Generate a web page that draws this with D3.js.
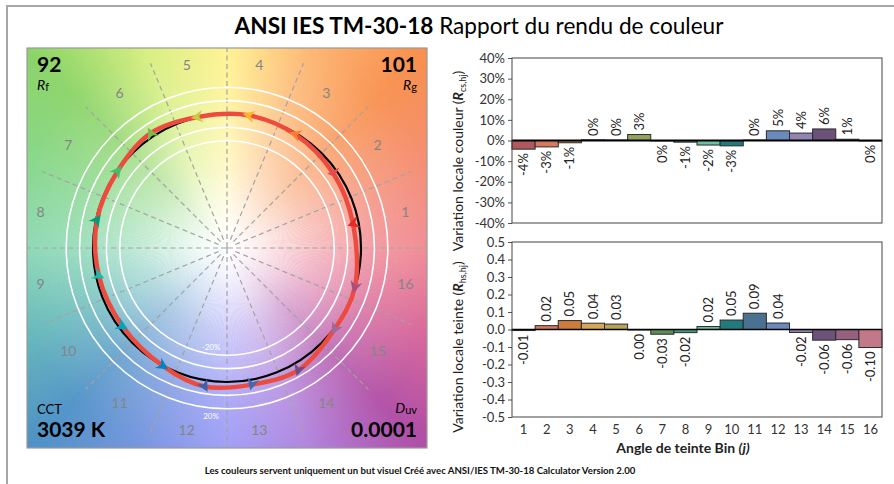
<!DOCTYPE html>
<html>
<head>
<meta charset="utf-8">
<script src="https://cdn.jsdelivr.net/npm/d3@7"></script>
<style>
  body { margin: 0; background: #fff; }
  svg { display: block; font-family: Lato, "Open Sans", sans-serif; }
</style>
</head>
<body>
<svg id="chart" width="894" height="484"></svg>
<script>
// ---- data ----
const bins = [1, 2, 3, 4, 5, 6, 7, 8, 9, 10, 11, 12, 13, 14, 15, 16];
// local chroma shift Rcs,hj (fraction)
const rcs = [-0.042, -0.031, -0.011, 0.003, 0.002, 0.029, -0.002, -0.008,
             -0.022, -0.026, 0.002, 0.047, 0.036, 0.056, 0.006, -0.002];
// local hue shift Rhs,hj
const rhs = [-0.006, 0.022, 0.051, 0.036, 0.031, -0.003, -0.027, -0.018,
             0.017, 0.054, 0.093, 0.037, -0.017, -0.061, -0.058, -0.103];
const rcsTicks = [0.4, 0.3, 0.2, 0.1, 0, -0.1, -0.2, -0.3, -0.4];
const rhsTicks = [0.5, 0.4, 0.3, 0.2, 0.1, 0, -0.1, -0.2, -0.3, -0.4, -0.5];
const ringLevels = [0.8, 0.9, 1.1, 1.2];
const rf = 92, rg = 101, cct = 3039, duv = 0.0001;

// bin colours (arrows) and the muted bar colours
const binColors = ['#e62828', '#e74b4b', '#fb812e', '#ffb529', '#cbca46', '#7eb94c', '#41c06d', '#009c7c',
                   '#16bcb0', '#00a4bf', '#0085c3', '#3b62aa', '#4568ae', '#6a4e85', '#9d69a1', '#a74f81'];
const barColors = ['#b0585f', '#d8785c', '#cc7d3c', '#d6a65a', '#b9a35a', '#93a45a', '#5f8c55', '#3f9a80',
                   '#6cc0a4', '#237a7e', '#4a7290', '#6a8abc', '#9284b2', '#6c5279', '#97607f', '#c27888'];

const svg = d3.select('#chart');

// outer frame
svg.append('path')
  .attr('d', 'M7,484 L7,6 L894,6')
  .attr('fill', 'none').attr('stroke', '#a6a6a6').attr('stroke-width', 2);

// title
const title = svg.append('text')
  .attr('x', 479).attr('y', 34).attr('text-anchor', 'middle')
  .attr('font-size', 22.6).attr('fill', '#000');
title.append('tspan').attr('font-weight', 'bold').text('ANSI IES TM-30-18');
title.append('tspan').text(' Rapport du rendu de couleur');

// ---- colour vector graphic ----
const cx = 227, cy = 248, half = 200;
const R = d3.scaleLinear().domain([0, 1]).range([0, 134]);
const defs = svg.append('defs');
defs.append('clipPath').attr('id', 'panel-clip')
  .append('rect').attr('x', cx - half).attr('y', cy - half).attr('width', 2 * half).attr('height', 2 * half);

const wheel = [[0, '#f0848e'], [22.5, '#f48a70'], [45, '#f8904e'], [67.5, '#fdb670'], [90, '#fff28c'],
               [112.5, '#d6ee7c'], [135, '#8cd468'], [157.5, '#84d68a'], [180, '#86d6b0'], [202.5, '#62b8b8'],
               [225, '#4f92c6'], [247.5, '#7492e0'], [270, '#9a98f6'], [292.5, '#ae80dc'], [315, '#b04ea6'],
               [337.5, '#d86496'], [360, '#f0848e']];
const wheelColor = d3.scaleLinear().domain(wheel.map(d => d[0])).range(wheel.map(d => d[1]));

const panel = svg.append('g').attr('clip-path', 'url(#panel-clip)');
const wedge = d3.arc().innerRadius(0).outerRadius(300);
panel.append('g').attr('transform', `translate(${cx},${cy})`)
  .selectAll('path')
  .data(d3.range(0, 360, 1))
  .join('path')
    .attr('d', d => wedge({startAngle: Math.PI / 2 - (d + 1.2) * Math.PI / 180,
                           endAngle: Math.PI / 2 - d * Math.PI / 180}))
    .attr('fill', d => wheelColor(d + 0.5));

const fade = defs.append('radialGradient').attr('id', 'fade')
  .attr('gradientUnits', 'userSpaceOnUse').attr('cx', cx).attr('cy', cy).attr('r', 270);
[[0, 1], [0.08, 0.9], [0.3, 0.52], [0.55, 0.2], [0.8, 0.04], [1, 0]].forEach(([o, a]) =>
  fade.append('stop').attr('offset', o).attr('stop-color', '#fff').attr('stop-opacity', a));
panel.append('rect')
  .attr('x', cx - half).attr('y', cy - half).attr('width', 2 * half).attr('height', 2 * half)
  .attr('fill', 'url(#fade)');

// bin boundary lines
const pt = (r, a) => [cx + r * Math.cos(a), cy - r * Math.sin(a)];
panel.append('g')
  .selectAll('line')
  .data(d3.range(16).map(k => k * Math.PI / 8))
  .join('line')
    .attr('x1', a => pt(9, a)[0]).attr('y1', a => pt(9, a)[1])
    .attr('x2', a => pt(half, a)[0]).attr('y2', a => pt(half, a)[1])
    .attr('stroke', '#a3a3a3').attr('stroke-width', 1.2).attr('stroke-dasharray', '5,3.5');
panel.append('path')
  .attr('d', `M${cx - 6},${cy}H${cx + 6}M${cx},${cy - 6}V${cy + 6}`)
  .attr('stroke', '#a3a3a3').attr('stroke-width', 1.2);

// reference rings
panel.append('g')
  .selectAll('circle')
  .data(ringLevels)
  .join('circle')
    .attr('cx', cx).attr('cy', cy).attr('r', d => R(d))
    .attr('fill', 'none').attr('stroke', '#fff').attr('stroke-width', 1.6);
panel.append('text').attr('x', cx - 16).attr('y', cy + R(0.8) - 5)
  .attr('text-anchor', 'middle').attr('font-size', 8).attr('fill', '#fff').text('-20%');
panel.append('text').attr('x', cx - 16).attr('y', cy + R(1.2) + 10)
  .attr('text-anchor', 'middle').attr('font-size', 8).attr('fill', '#fff').text('20%');

// bin numbers
panel.append('g')
  .selectAll('text')
  .data(bins)
  .join('text')
    .attr('x', d => pt(186, (d - 0.5) * Math.PI / 8)[0] - 4)
    .attr('y', d => pt(186, (d - 0.5) * Math.PI / 8)[1])
    .attr('dy', '0.35em').attr('text-anchor', 'middle')
    .attr('font-size', 14).attr('fill', '#858585')
    .text(d => d);

// reference circle and test curve
panel.append('circle').attr('cx', cx).attr('cy', cy).attr('r', R(1))
  .attr('fill', 'none').attr('stroke', '#000').attr('stroke-width', 2.2);

const testPts = bins.map((b, i) => {
  const a0 = (b - 0.5) * Math.PI / 8;
  const a = a0 + rhs[i];
  const r = R(1 + rcs[i]);
  const p = pt(r, a);
  const q = pt(R(1), a0);
  return {x: p[0], y: p[1], dir: Math.atan2(p[1] - q[1], p[0] - q[0]) * 180 / Math.PI, i};
});
panel.append('path')
  .datum(testPts)
  .attr('d', d3.line().x(d => d.x).y(d => d.y).curve(d3.curveCatmullRomClosed.alpha(0.5)))
  .attr('fill', 'none').attr('stroke', '#ee4b3f').attr('stroke-width', 4.5).attr('stroke-linejoin', 'round');

panel.append('g')
  .selectAll('path')
  .data(testPts)
  .join('path')
    .attr('d', 'M6,0 L-6,-6 L-2.5,0 L-6,6 Z')
    .attr('transform', d => `translate(${d.x},${d.y}) rotate(${d.dir})`)
    .attr('fill', d => binColors[d.i]);

svg.append('rect')
  .attr('x', cx - half).attr('y', cy - half).attr('width', 2 * half).attr('height', 2 * half)
  .attr('fill', 'none').attr('stroke', '#9a9a9a').attr('stroke-width', 1.2);

// corner metrics
const corner = svg.append('g').attr('fill', '#000');
corner.append('text').attr('x', 37).attr('y', 72).attr('font-size', 21).attr('font-weight', 'bold').text(rf);
corner.append('text').attr('x', 417).attr('y', 72).attr('font-size', 21).attr('font-weight', 'bold')
  .attr('text-anchor', 'end').text(rg);
const rfLab = corner.append('text').attr('x', 37).attr('y', 90).attr('font-size', 14);
rfLab.append('tspan').attr('font-style', 'italic').text('R');
rfLab.append('tspan').attr('font-size', 11).attr('dy', 1).text('f');
const rgLab = corner.append('text').attr('x', 417).attr('y', 90).attr('font-size', 14).attr('text-anchor', 'end');
rgLab.append('tspan').attr('font-style', 'italic').text('R');
rgLab.append('tspan').attr('font-size', 11).attr('dy', 1).text('g');
corner.append('text').attr('x', 37).attr('y', 414).attr('font-size', 13).text('CCT');
corner.append('text').attr('x', 37).attr('y', 437).attr('font-size', 21).attr('font-weight', 'bold').text(`${cct} K`);
const duvLab = corner.append('text').attr('x', 417).attr('y', 413).attr('font-size', 14).attr('text-anchor', 'end');
duvLab.append('tspan').attr('font-style', 'italic').text('D');
duvLab.append('tspan').attr('font-size', 11).attr('dy', 1).text('uv');
corner.append('text').attr('x', 417).attr('y', 437).attr('font-size', 21).attr('font-weight', 'bold')
  .attr('text-anchor', 'end').text(duv.toFixed(4));

// ---- bar charts ----
const x = d3.scaleBand().domain(bins).range([512, 882]).padding(0);
const yCs = d3.scaleLinear().domain([-0.4, 0.4]).range([223, 58]);
const yHs = d3.scaleLinear().domain([-0.5, 0.5]).range([417, 242]);

const pctLabel = v => { const r = Math.round(v * 100); return `${r === 0 ? 0 : r}%`; };
const hsLabel = v => { const s = v.toFixed(2); return s === '-0.00' ? '0.00' : s; };

function barChart(y, values, ticks, tickFmt, labelFmt, zeroWidth) {
  const g = svg.append('g');
  const axis = g.append('g').attr('transform', 'translate(512,0)')
    .call(d3.axisLeft(y).tickValues(ticks).tickSize(4).tickPadding(3).tickFormat(tickFmt));
  axis.select('.domain').remove();
  axis.selectAll('text').attr('font-size', 13).attr('fill', '#333').attr('font-family', 'Lato, sans-serif');
  axis.selectAll('line').attr('stroke', '#555');

  g.append('g')
    .selectAll('rect')
    .data(values)
    .join('rect')
      .attr('x', (d, i) => x(bins[i]))
      .attr('width', x.bandwidth())
      .attr('y', d => Math.min(y(d), y(0)))
      .attr('height', d => Math.abs(y(d) - y(0)))
      .attr('fill', (d, i) => barColors[i])
      .attr('stroke', '#2b2b2b').attr('stroke-width', 1);

  g.append('line')
    .attr('x1', 512).attr('x2', 882).attr('y1', y(0)).attr('y2', y(0))
    .attr('stroke', '#000').attr('stroke-width', zeroWidth);

  g.append('g')
    .selectAll('text')
    .data(values)
    .join('text')
      .attr('transform', (d, i) => {
        const yy = d >= 0 ? y(d) - 4 : y(d) + 4;
        return `translate(${x(bins[i]) + x.bandwidth() / 2},${yy}) rotate(-90)`;
      })
      .attr('dy', '0.35em')
      .attr('text-anchor', d => d >= 0 ? 'start' : 'end')
      .attr('font-size', 13).attr('fill', '#222')
      .text(labelFmt);

  g.append('rect')
    .attr('x', 512).attr('y', y.range()[1])
    .attr('width', 370).attr('height', y.range()[0] - y.range()[1])
    .attr('fill', 'none').attr('stroke', '#444').attr('stroke-width', 1);
}

barChart(yCs, rcs, rcsTicks, pctLabel, pctLabel, 2);
barChart(yHs, rhs, rhsTicks, v => v.toFixed(1), hsLabel, 1.4);

// category labels
svg.append('g')
  .selectAll('text')
  .data(bins)
  .join('text')
    .attr('x', d => x(d) + x.bandwidth() / 2).attr('y', 434)
    .attr('text-anchor', 'middle').attr('font-size', 13).attr('fill', '#333')
    .text(d => d);

const xt = svg.append('text').attr('x', 683).attr('y', 453).attr('text-anchor', 'middle')
  .attr('font-size', 14).attr('font-weight', 'bold').attr('fill', '#222');
xt.append('tspan').text('Angle de teinte Bin  ');
xt.append('tspan').attr('font-style', 'italic').text('(j)');

function yTitle(cy0, text, sub) {
  const t = svg.append('text')
    .attr('transform', `translate(463,${cy0}) rotate(-90)`)
    .attr('text-anchor', 'middle').attr('font-size', 14).attr('fill', '#222');
  t.append('tspan').text(text + '  (');
  t.append('tspan').attr('font-weight', 'bold').attr('font-style', 'italic').text('R');
  t.append('tspan').attr('font-size', 9).attr('dy', 3).text(sub);
  t.append('tspan').attr('dy', -3).text(')');
}
yTitle(161, 'Variation locale couleur', 'cs,hj');
yTitle(347, 'Variation locale teinte', 'hs,hj');

// footer
svg.append('text').attr('x', 420).attr('y', 474).attr('text-anchor', 'middle')
  .attr('font-size', 9.6).attr('font-weight', 'bold').attr('fill', '#111')
  .text('Les couleurs servent uniquement un but visuel Créé avec ANSI/IES TM-30-18 Calculator Version 2.00');
</script>
</body>
</html>
